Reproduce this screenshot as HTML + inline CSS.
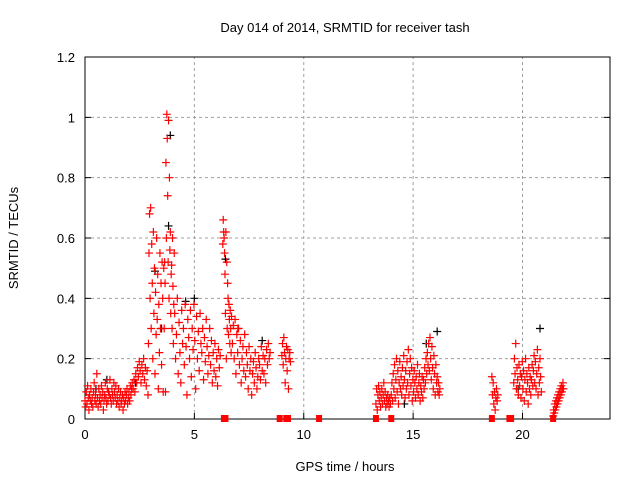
<!DOCTYPE html>
<html><head><meta charset="utf-8"><style>
body{margin:0;background:#fff}
svg{display:block;font-family:"Liberation Sans",sans-serif}
</style></head><body>
<svg id="chart" width="640" height="480" viewBox="0 0 640 480">
<rect width="640" height="480" fill="#fff"/>
<text x="345" y="32" font-size="13" text-anchor="middle">Day 014 of 2014, SRMTID for receiver tash</text>
<text transform="translate(18,238) rotate(-90)" font-size="13" text-anchor="middle">SRMTID / TECUs</text>
<text x="345" y="471" font-size="13" text-anchor="middle">GPS time / hours</text>
<g id="grid"></g><g id="axes"></g><g id="marks"></g>
</svg>
<script>
const xTicks=[0,5,10,15,20];
const yTicks=[0,0.2,0.4,0.6,0.8,1,1.2];
const yTickLabels=["0","0.2","0.4","0.6","0.8","1","1.2"];
const segStart=[0,2.2,2.9,3.6,4.1,6.3,6.7,9.0,13.3,14.0,18.6,19.6,21.4];
const segStep=[0.03,0.04,0.025,0.02,0.04,0.02,0.04,0.03,0.03,0.03,0.03,0.03,0.025];
const segValues=[
[0.06,0.04,0.09,0.05,0.11,0.07,0.03,0.08,0.06,0.1,0.05,0.07,0.04,0.09,0.12,0.06,0.08,0.05,0.15,0.07,0.04,0.1,0.06,0.08,0.05,0.11,0.07,0.09,0.03,0.06,0.08,0.12,0.07,0.05,0.1,0.06,0.09,0.08,0.13,0.07,0.05,0.1,0.08,0.06,0.12,0.09,0.07,0.11,0.05,0.08,0.06,0.1,0.04,0.07,0.09,0.05,0.06,0.08,0.03,0.07,0.05,0.09,0.06,0.08,0.1,0.05,0.07,0.09,0.06,0.11,0.08,0.1,0.12],
[0.1,0.13,0.09,0.15,0.12,0.17,0.14,0.19,0.16,0.12,0.18,0.15,0.2,0.13,0.17,0.11,0.16,0.08],
[0.25,0.55,0.68,0.4,0.7,0.3,0.58,0.45,0.2,0.62,0.35,0.5,0.15,0.42,0.28,0.6,0.33,0.48,0.1,0.38,0.22,0.55,0.3,0.45,0.18,0.52,0.4,0.09],
[0.5,0.3,0.52,0.45,0.09,0.85,0.6,1.01,0.93,0.74,0.52,0.99,0.4,0.8,0.56,0.62,0.35,0.48,0.51,0.3,0.6,0.44,0.25,0.38,0.55],
[0.35,0.2,0.28,0.4,0.15,0.32,0.22,0.12,0.36,0.25,0.3,0.18,0.38,0.24,0.08,0.33,0.27,0.2,0.36,0.14,0.3,0.23,0.38,0.26,0.1,0.34,0.2,0.29,0.16,0.35,0.25,0.22,0.3,0.13,0.27,0.19,0.33,0.24,0.15,0.21,0.3,0.18,0.26,0.12,0.22,0.16,0.25,0.14,0.2,0.11,0.23,0.17,0.21],
[0.58,0.66,0.62,0.6,0.55,0.48,0.35,0.62,0.2,0.52,0.3,0.45,0.4,0.28,0.38,0.33,0.25,0.36,0.3,0.22],
[0.34,0.25,0.31,0.2,0.33,0.15,0.28,0.22,0.3,0.18,0.26,0.12,0.2,0.24,0.16,0.28,0.14,0.22,0.18,0.1,0.24,0.16,0.2,0.08,0.15,0.19,0.12,0.22,0.17,0.1,0.14,0.2,0.18,0.13,0.24,0.16,0.21,0.15,0.2,0.12,0.23,0.18,0.25,0.2,0.22],
[0.21,0.25,0.18,0.27,0.22,0.12,0.2,0.24,0.16,0.23,0.1,0.2,0.22,0.19],
[0.05,0.1,0.03,0.08,0.11,0.06,0.09,0.04,0.07,0.1,0.05,0.08,0.12,0.06,0.09,0.04,0.07,0.05,0.08,0.06,0.04,0.07,0.05],
[0.08,0.12,0.06,0.15,0.1,0.18,0.07,0.13,0.2,0.09,0.16,0.05,0.12,0.19,0.1,0.14,0.08,0.17,0.11,0.21,0.13,0.07,0.16,0.1,0.19,0.12,0.23,0.08,0.15,0.2,0.11,0.17,0.06,0.13,0.09,0.16,0.12,0.07,0.14,0.1,0.18,0.08,0.12,0.15,0.06,0.11,0.09,0.14,0.07,0.13,0.1,0.17,0.12,0.2,0.15,0.22,0.18,0.25,0.16,0.27,0.2,0.13,0.24,0.17,0.1,0.21,0.15,0.08,0.18,0.12,0.14,0.09,0.12,0.08,0.1],
[0.14,0.08,0.12,0.05,0.09,0.03,0.07,0.1,0.06,0.08],
[0.12,0.2,0.15,0.25,0.1,0.17,0.13,0.08,0.18,0.11,0.15,0.07,0.14,0.19,0.1,0.16,0.06,0.13,0.2,0.09,0.15,0.12,0.05,0.17,0.1,0.14,0.08,0.13,0.18,0.11,0.16,0.21,0.12,0.19,0.1,0.15,0.23,0.08,0.17,0.12,0.2,0.14,0.09],
[0.01,0.03,0.02,0.05,0.03,0.06,0.04,0.07,0.05,0.08,0.06,0.09,0.07,0.1,0.08,0.11,0.09,0.1,0.12,0.1]
];
const blackTimes=[3.9,3.82,3.2,5.0,16.1,20.8,6.42,15.6,2.3,8.1,1.0,4.6,7.0,14.6,19.8,21.6,0.5,3.5];
const blackValues=[0.94,0.64,0.49,0.4,0.29,0.3,0.53,0.25,0.12,0.26,0.13,0.39,0.3,0.05,0.1,0.05,0.1,0.3];
const zeroTimes=[6.35,6.42,8.9,9.2,9.28,10.7,13.3,14.0,18.6,19.4,19.48,21.4];

const X0=85,X1=610,Y0=419,Y1=57;
const xs=t=>X0+(t/24)*(X1-X0);
const ys=v=>Y0-(v/1.2)*(Y0-Y1);
const NS="http://www.w3.org/2000/svg";
function mk(tag,parent,attrs){const e=document.createElementNS(NS,tag);for(const k in attrs)e.setAttribute(k,attrs[k]);parent.appendChild(e);return e;}
const grid=document.getElementById('grid'),axes=document.getElementById('axes'),marks=document.getElementById('marks');
xTicks.forEach((t,i)=>{
  if(t>0){const g=mk('line',grid,{x1:xs(t),x2:xs(t),y1:Y0,y2:Y1,stroke:'#a0a0a0','stroke-dasharray':'3,3'});
  
  }
  const tk=mk('line',axes,{x1:xs(t),x2:xs(t),y1:Y0,y2:Y0-6,stroke:'#000'});
  
  
  const tl=mk('text',axes,{x:xs(t),y:Y0+20,'font-size':13,'text-anchor':'middle'});tl.textContent=String(t);
  
  
});
yTicks.forEach((v,i)=>{
  if(v>0&&v<1.2){const g=mk('line',grid,{x1:X0,x2:X1,y1:ys(v),y2:ys(v),stroke:'#a0a0a0','stroke-dasharray':'3,3'});
  
  }
  const tk=mk('path',axes,{d:`M${X0},${ys(v)}h6M${X1},${ys(v)}h-6`,stroke:'#000'});
  
  
  const tl=mk('text',axes,{x:X0-10,y:ys(v)+5,'font-size':13,'text-anchor':'end'});tl.textContent=yTickLabels[i];
  
  
});
const frame=mk('rect',axes,{x:X0,y:Y1,width:X1-X0,height:Y0-Y1,fill:'none',stroke:'#000'});


function plus(t,v,col,name){
  const x=xs(t),y=ys(v);
  const p=mk('path',marks,{d:`M${x-4},${y}h8M${x},${y-4}v8`,stroke:col,'stroke-width':1.2});
  
  
}
blackTimes.forEach((t,i)=>plus(t,blackValues[i],'#000','black-point'));
segValues.forEach((vals,s)=>vals.forEach((v,j)=>plus(segStart[s]+j*segStep[s],v,'#f00','red-point')));
zeroTimes.forEach(t=>{
  const r=mk('rect',marks,{x:xs(t)-3,y:Y0-4,width:6,height:7,fill:'#f00'});
  
  
});
</script>
</body></html>
